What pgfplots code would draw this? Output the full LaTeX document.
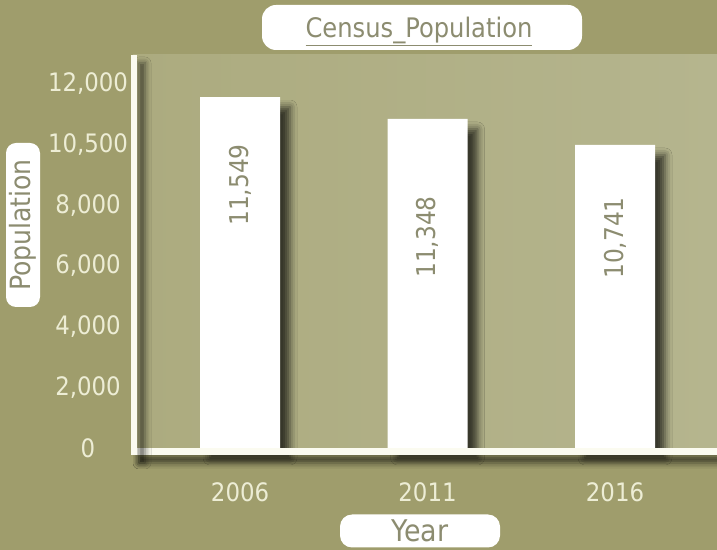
\documentclass[border=0pt]{standalone}
\usepackage{pgfplots}
\pgfplotsset{compat=1.18}
\usepackage{fontspec}
\setmainfont{DejaVu Sans Condensed}
\usetikzlibrary{shadows.blur}
\definecolor{bgol}{HTML}{9F9D6C}
\definecolor{paL}{HTML}{ACAB7F}
\definecolor{paR}{HTML}{B5B58E}
\definecolor{tick}{HTML}{EDEDD5}
\definecolor{lab}{HTML}{8C8C70}
\definecolor{axw}{HTML}{FBFBF0}
\begin{document}
\begin{tikzpicture}
\useasboundingbox (0,0) rectangle (717bp,550bp);
\clip (0,0) rectangle (717bp,550bp);
\fill[bgol] (0,0) rectangle (717bp,550bp);
\begin{axis}[
  at={(133bp,102bp)}, anchor=south west,
  scale only axis, width=584bp, height=393bp,
  xmin=-0.571, xmax=2.544, ymin=0, ymax=12956,
  clip=false,
  scaled y ticks=false,
  axis line style={draw=none},
  axis background/.style={left color=paL, right color=paR},
  major tick length=0pt,
  xtick={0,1,2}, xticklabels={2006,2011,2016},
  ytick={0,2000,4000,6000,8000,10000,12000},
  yticklabels={0,{2,000},{4,000},{6,000},{8,000},{10,500},{12,000}},
  tick label style={font=\fontsize{25.5}{29}\selectfont, text=tick},
  yticklabel style={anchor=center, xshift=-45bp},
  xticklabel style={anchor=center, yshift=-44bp},
  ybar, bar width=80bp,
]
\addplot[fill=white, draw=none,
  blur shadow={shadow xshift=10bp, shadow yshift=-10bp, shadow blur radius=7bp, shadow opacity=68}]
  coordinates {(0,11571) (1,10846) (2,9989)};
\node[rotate=90, text=lab, font=\fontsize{26}{30}\selectfont] at (axis cs:0,8670) {11,549};
\node[rotate=90, text=lab, font=\fontsize{26}{30}\selectfont] at (axis cs:1,6956) {11,348};
\node[rotate=90, text=lab, font=\fontsize{26}{30}\selectfont] at (axis cs:2,6923) {10,741};
\end{axis}
% axis lines
\fill[axw, blur shadow={shadow xshift=8bp, shadow yshift=-8bp, shadow blur radius=6bp, shadow opacity=60}]
  (131bp,95bp) rectangle (730bp,102bp);
\fill[axw, blur shadow={shadow xshift=8bp, shadow yshift=-8bp, shadow blur radius=6bp, shadow opacity=60}]
  (131bp,95bp) rectangle (137bp,495bp);
% title
\node[fill=white, rounded corners=14bp, minimum width=320bp, minimum height=45bp, inner sep=0pt] at (422bp,522.5bp) {};
\node[text=lab, font=\fontsize{27}{31}\selectfont, inner sep=0pt] at (419bp,519bp) {\underline{Census\_Population}};
% y label
\node[fill=white, rounded corners=10bp, minimum width=164bp, minimum height=34bp, inner sep=0pt,
  rotate=90, text=lab, font=\fontsize{28}{32}\selectfont] at (23bp,325bp) {Population};
% x label
\node[fill=white, rounded corners=12bp, minimum width=160bp, minimum height=33bp, inner sep=0pt,
  text=lab, font=\fontsize{30}{34}\selectfont] at (420bp,19bp) {Year};
\end{tikzpicture}
\end{document}
